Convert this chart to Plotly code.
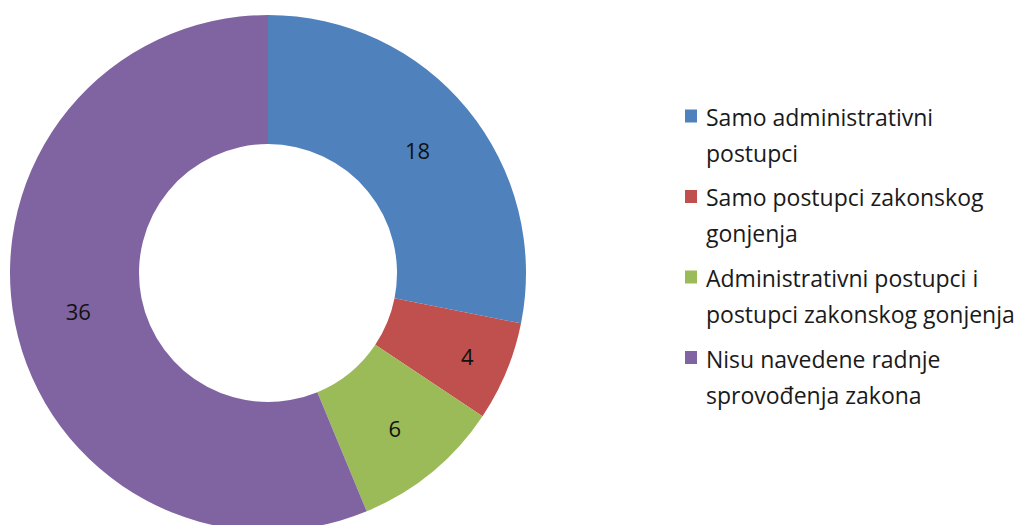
import plotly.graph_objects as go

# Data
categories = [
    "Samo administrativni<br>postupci",
    "Samo postupci zakonskog<br>gonjenja",
    "Administrativni postupci i<br>postupci zakonskog gonjenja",
    "Nisu navedene radnje<br>sprovođenja zakona",
]
values = [18, 4, 6, 36]
colors = ["#4F81BD", "#C0504D", "#9BBB59", "#8064A2"]

W, H = 1018, 540
FONT = "Open Sans"

fig = go.Figure()
fig.add_trace(go.Pie(
    labels=[c.replace("<br>", " ") for c in categories],
    values=values,
    hole=0.5,
    sort=False,
    direction="clockwise",
    rotation=0,
    marker=dict(colors=colors, line=dict(width=0)),
    textinfo="value",
    textposition="inside",
    insidetextorientation="horizontal",
    textfont=dict(family=FONT, size=22, color="#111111"),
    domain=dict(x=[10 / W, 526 / W], y=[1 - 531 / H, 1 - 15 / H]),
    showlegend=False,
))

# Legend drawn as annotations + squares (to match the original line spacing)
leg_x_sq, sq_w, sq_h = 685, 12, 13
leg_x_txt = 704
entry_y0, entry_gap, line_gap = 117, 80.5, 36
shapes, annos = [], []
for i, (lab, col) in enumerate(zip(categories, colors)):
    y0 = entry_y0 + i * entry_gap
    shapes.append(dict(type="rect", xref="paper", yref="paper",
                       x0=leg_x_sq / W, x1=(leg_x_sq + sq_w) / W,
                       y0=1 - (y0 - sq_h / 2 - 1) / H, y1=1 - (y0 + sq_h / 2 - 1) / H,
                       fillcolor=col, line=dict(width=0)))
    for j, line in enumerate(lab.split("<br>")):
        annos.append(dict(x=leg_x_txt / W, y=1 - (y0 + j * line_gap) / H,
                          xref="paper", yref="paper", xanchor="left", yanchor="middle",
                          text=line, showarrow=False,
                          font=dict(family=FONT, size=23, color="#1a1a1a")))

fig.update_layout(
    width=W, height=H,
    margin=dict(l=0, r=0, t=0, b=0),
    paper_bgcolor="white", plot_bgcolor="white",
    shapes=shapes, annotations=annos,
)

fig.write_html(
    "out.html",
    post_script="document.documentElement.style.overflow='hidden';document.body.style.overflow='hidden';document.body.style.margin='0';",
)
